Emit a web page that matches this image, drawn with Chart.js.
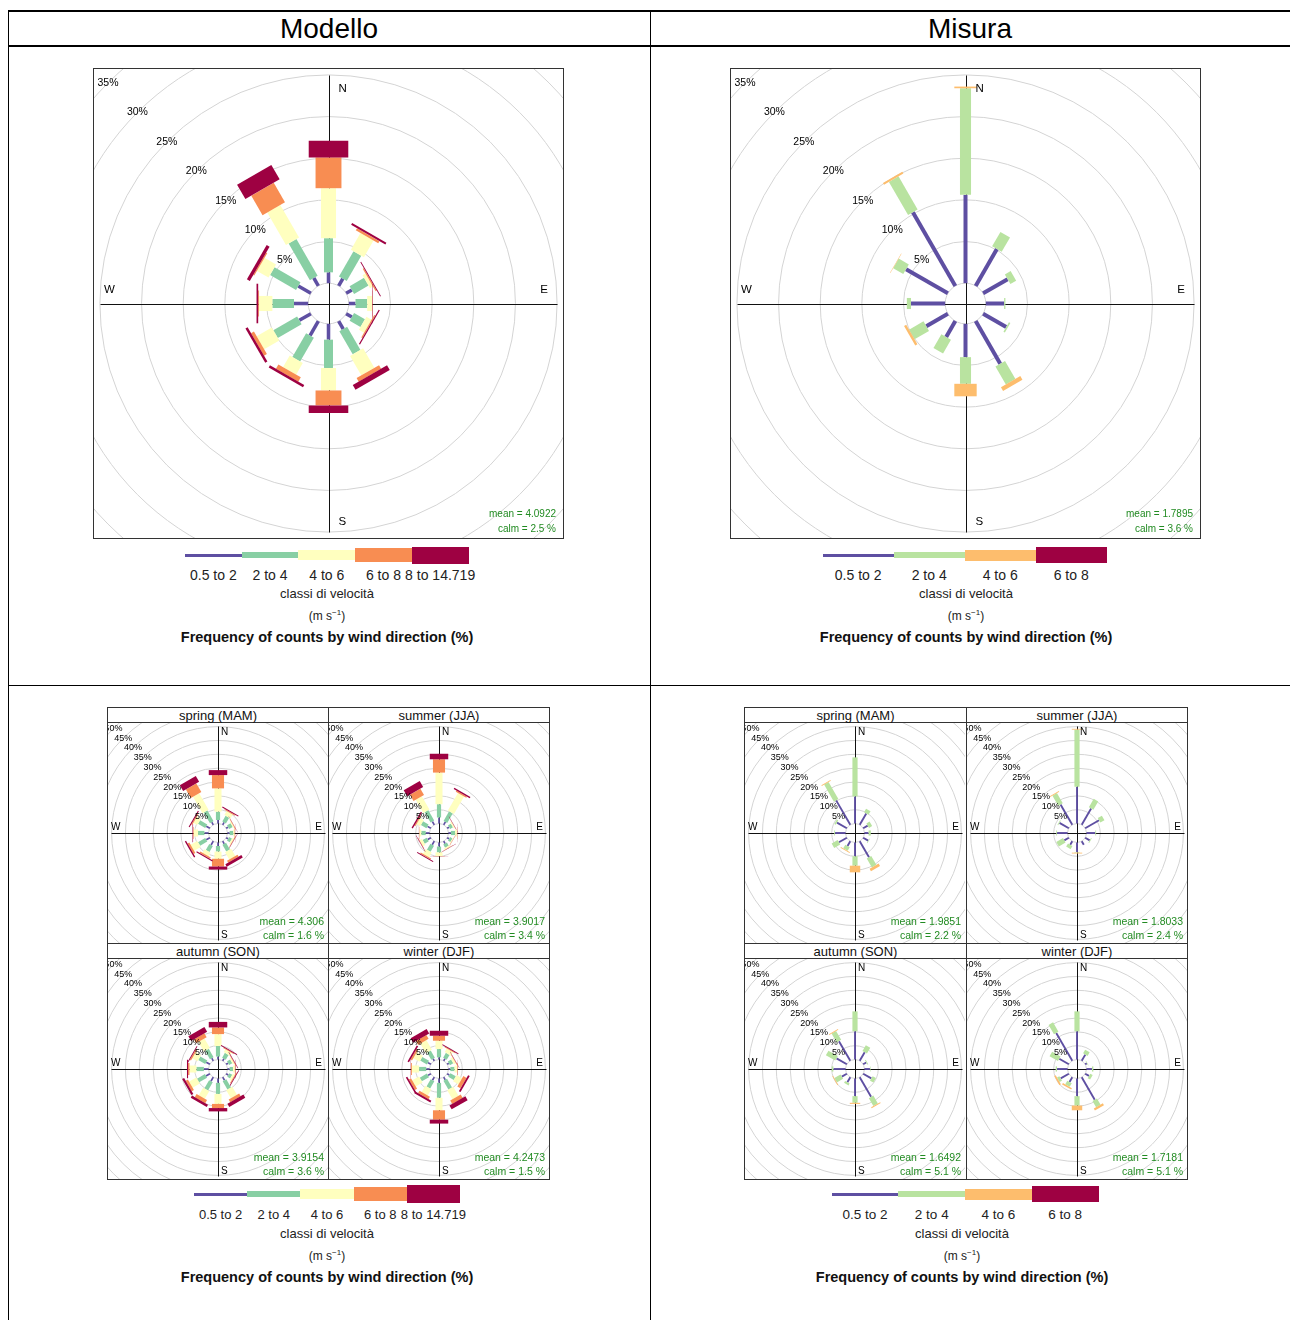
<!DOCTYPE html>
<html>
<head>
<meta charset="utf-8">
<title>Rose dei venti - Modello / Misura</title>
<script src="https://cdn.jsdelivr.net/npm/chart.js@4.4.1/dist/chart.umd.min.js"></script>
<style>
  body { margin: 0; background: #fff; font-family: "Liberation Sans", Arial, sans-serif; color: #000; }
  #page { position: relative; width: 1290px; height: 1320px; overflow: hidden; }
  .ln { position: absolute; }
  .txt { position: absolute; transform: translate(-50%, -50%); white-space: nowrap; }
  .seg { position: absolute; }
  canvas { position: absolute; }
</style>
</head>
<body>
<div id="page"></div>
<script>
// wind directions (degrees from north), 30 degree sectors
const directions = [0, 30, 60, 90, 120, 150, 180, 210, 240, 270, 300, 330];

const modelloClasses = ['0.5 to 2', '2 to 4', '4 to 6', '6 to 8', '8 to 14.719'];
const misuraClasses = ['0.5 to 2', '2 to 4', '4 to 6', '6 to 8'];
const modelloColours = ['#5E4FA2', '#88CFA4', '#FFFFBF', '#F88D52', '#9E0142'];
const misuraColours = ['#5E4FA2', '#B9E3A0', '#FDBD6D', '#9E0142'];
const seasons = ['spring (MAM)', 'summer (JJA)', 'autumn (SON)', 'winter (DJF)'];

// frequency (%) per direction, one row per speed class
const modelloAnnual = [
  [1.3, 1.0, 0.8, 0.8, 0.8, 1.1, 1.9, 2.0, 1.6, 1.7, 1.75, 1.1],
  [4.1, 3.5, 2.0, 1.4, 1.5, 3.2, 3.4, 3.3, 3.3, 2.6, 3.6, 5.1],
  [6.0, 2.3, 0.4, 0.6, 0.7, 2.7, 2.7, 1.6, 2.1, 1.6, 1.6, 4.5],
  [3.7, 0.3, 0.15, 0.05, 0.15, 0.5, 1.8, 0.6, 0.4, 0.1, 0.15, 2.7],
  [2.0, 0.25, 0.1, 0.05, 0.15, 0.65, 0.9, 0.3, 0.3, 0.2, 0.4, 2.0]
];
const misuraAnnual = [
  [10.6, 5.1, 3.4, 2.2, 3.2, 5.9, 4.0, 2.2, 3.0, 4.1, 5.8, 10.2],
  [12.8, 2.0, 0.8, 0.15, 0.2, 2.5, 3.2, 1.9, 2.0, 0.5, 1.4, 4.6],
  [0.2, 0, 0, 0, 0, 0.5, 1.5, 0, 0.3, 0, 0.05, 0.25],
  [0, 0, 0, 0, 0, 0, 0, 0, 0, 0, 0, 0]
];

const modelloSpring = [
  [1.3, 1.0, 0.8, 0.8, 0.8, 1.1, 1.3, 1.6, 1.5, 1.5, 1.5, 1.1],
  [3.0, 2.4, 1.5, 1.3, 1.2, 2.8, 2.0, 2.5, 3.0, 2.3, 3.0, 4.5],
  [8.4, 1.6, 0.4, 0.5, 0.6, 3.0, 2.6, 1.5, 2.8, 1.6, 1.6, 6.8],
  [4.8, 0.35, 0.2, 0.15, 0.2, 0.8, 2.8, 0.5, 0.7, 0.2, 0.4, 3.6],
  [1.8, 0.35, 0.1, 0.05, 0.1, 1.0, 1.1, 0.4, 0.5, 0.2, 0.4, 2.4]
];
const modelloSummer = [
  [2.2, 1.2, 0.8, 0.9, 0.8, 1.0, 1.5, 1.5, 1.3, 1.4, 1.4, 1.4],
  [4.8, 4.0, 1.2, 1.5, 1.0, 1.3, 2.1, 2.5, 1.7, 1.6, 2.3, 4.3],
  [11.4, 7.3, 0.5, 0.7, 0.3, 0.6, 1.3, 2.0, 1.0, 0.7, 1.5, 5.5],
  [4.8, 0.5, 0.1, 0.1, 0.1, 0.1, 0.1, 0.4, 0.15, 0.1, 0.4, 2.6],
  [2.0, 0.5, 0.1, 0.05, 0.05, 0.1, 0.05, 0.4, 0.15, 0.05, 0.5, 2.5]
];
const modelloAutumn = [
  [1.1, 0.9, 0.8, 0.8, 0.9, 1.3, 1.6, 1.7, 1.6, 1.7, 1.5, 1.1],
  [3.8, 2.0, 1.3, 1.2, 1.2, 3.4, 4.0, 3.4, 3.3, 2.7, 2.9, 3.5],
  [4.3, 1.2, 0.6, 0.7, 0.8, 3.4, 3.6, 3.2, 3.0, 2.5, 2.2, 4.0],
  [2.4, 0.3, 0.2, 0.2, 0.3, 1.1, 1.5, 1.3, 0.9, 0.5, 0.5, 1.6],
  [2.0, 0.3, 0.2, 0.1, 0.3, 1.3, 1.2, 0.9, 0.8, 0.4, 0.3, 2.0]
];
const modelloWinter = [
  [0.8, 0.9, 0.7, 0.7, 0.9, 1.1, 1.6, 1.3, 1.2, 1.2, 1.2, 0.9],
  [3.0, 2.0, 1.4, 1.5, 2.3, 3.6, 5.4, 3.0, 3.0, 2.6, 2.8, 3.0],
  [3.0, 1.5, 0.8, 1.0, 2.3, 3.8, 4.5, 2.6, 2.8, 2.6, 2.6, 4.0],
  [1.8, 0.3, 0.2, 0.2, 1.3, 1.4, 3.4, 1.0, 0.9, 0.3, 0.6, 1.6],
  [1.8, 0.3, 0.1, 0.05, 0.7, 1.6, 1.4, 0.7, 0.6, 0.1, 0.6, 1.8]
];

const misuraSpring = [
  [9.8, 4.75, 1.9, 1.5, 2.1, 6.7, 5.0, 2.0, 3.3, 3.8, 4.1, 10.2],
  [14.1, 1.45, 1.3, 0.8, 0.2, 3.7, 3.4, 1.5, 2.5, 0.3, 0.6, 7.1],
  [0, 0, 0, 0, 0, 1.0, 2.4, 0.3, 0, 0, 0, 0.3],
  [0, 0, 0, 0, 0, 0, 0, 0, 0, 0, 0, 0]
];
const misuraSummer = [
  [13.3, 6.8, 5.8, 3.2, 1.9, 1.5, 3.5, 1.5, 1.9, 3.8, 3.9, 8.5],
  [20.6, 3.5, 1.7, 0.3, 0.3, 0, 0.2, 1.3, 2.8, 0.3, 0.3, 4.2],
  [0.3, 0, 0, 0, 0, 0, 0.3, 0, 0, 0, 0, 0.3],
  [0, 0, 0, 0, 0, 0, 0, 0, 0, 0, 0, 0]
];
const misuraAutumn = [
  [10.2, 3.6, 1.3, 2.0, 3.4, 8.2, 6.4, 2.1, 2.1, 4.4, 4.3, 8.2],
  [7.2, 2.4, 0.3, 0.2, 1.4, 3.3, 2.4, 0.8, 2.6, 0.6, 3.9, 3.7],
  [0, 0, 0, 0, 0, 0.4, 0.4, 0, 0.3, 0, 0, 0.3],
  [0, 0, 0, 0, 0, 0, 0, 0, 0, 0, 0, 0]
];
const misuraWinter = [
  [10.2, 2.6, 0.7, 2.0, 1.6, 9.4, 6.4, 2.0, 3.4, 3.8, 4.0, 11.6],
  [7.2, 1.5, 0.2, 0.5, 1.0, 2.6, 3.4, 1.5, 1.0, 0.5, 3.5, 3.9],
  [0, 0, 0, 0, 0, 0.8, 1.7, 0.6, 0.6, 0, 0, 0],
  [0, 0, 0, 0, 0, 0, 0, 0, 0, 0, 0, 0]
];

// annual, spring, summer, autumn, winter
const modelloMean = ['4.0922', '4.306', '3.9017', '3.9154', '4.2473'];
const modelloCalm = ['2.5', '1.6', '3.4', '3.6', '1.5'];
const misuraMean = ['1.7895', '1.9851', '1.8033', '1.6492', '1.7181'];
const misuraCalm = ['3.6', '2.2', '2.4', '5.1', '5.1'];

const FONT = '"Liberation Sans", Arial, sans-serif';
const page = document.getElementById('page');

function addLine(x, y, w, h, col) {
  const d = document.createElement('div');
  d.className = 'ln';
  d.style.cssText = `left:${x}px;top:${y}px;width:${w}px;height:${h}px;background:${col || '#000'}`;
  page.appendChild(d);
}
function addText(x, y, html, css) {
  const d = document.createElement('div');
  d.className = 'txt';
  d.style.cssText = `left:${x}px;top:${y}px;` + (css || '');
  d.innerHTML = html;
  page.appendChild(d);
}
function addCanvas(x, y, size) {
  const c = document.createElement('canvas');
  c.width = size; c.height = size;
  c.style.left = x + 'px'; c.style.top = y + 'px';
  c.style.width = size + 'px'; c.style.height = size + 'px';
  page.appendChild(c);
  return c;
}

// looks of the two kinds of plot
const bigLook = { R: 28.27, offset: 2.44, maxRing: 35, pctFont: 10.5, nsewFont: 11.5, nsGap: 10, ewGap: 14,
  meanFont: 10, meanRight: 8, meanY: [24.5, 9.5], frame: true };
const smallLook = { R: 39.7, offset: 3.4, maxRing: 50, pctFont: 9, nsewFont: 10, nsGap: 3, ewGap: 5.5,
  meanFont: 10.5, meanRight: 4, meanY: [20.5, 7.3], frame: false };
const modelloWidths = [0.015, 0.038, 0.064, 0.11, 0.168];
const misuraWidths = [0.017, 0.047, 0.095, 0.15];

function drawRose(chart, rows, colours, widths, look, mean, calm) {
  const ctx = chart.ctx, a = chart.chartArea;
  const sx = chart.scales.x, sy = chart.scales.y;
  const P = (u, v) => [sx.getPixelForValue(u), sy.getPixelForValue(v)];
  const unit = sx.getPixelForValue(1) - sx.getPixelForValue(0);
  const cx = sx.getPixelForValue(0), cy = sy.getPixelForValue(0);
  const R = look.R, off = look.offset;

  ctx.save();
  ctx.beginPath();
  ctx.rect(a.left, a.top, a.right - a.left, a.bottom - a.top);
  ctx.clip();

  // grid circles (first one = calm circle)
  ctx.strokeStyle = '#d4d4d4';
  ctx.lineWidth = 1;
  for (let p = 0; p <= look.maxRing; p += 5) {
    ctx.beginPath();
    ctx.arc(cx, cy, (off + p) * unit, 0, Math.PI * 2);
    ctx.stroke();
  }

  // cross
  ctx.strokeStyle = '#111';
  const L = R * 0.97;
  [[P(-L, 0), P(L, 0)], [P(0, -L), P(0, L)]].forEach(([p1, p2]) => {
    ctx.beginPath();
    ctx.moveTo(Math.round(p1[0]) + 0.5, Math.round(p1[1]) + 0.5);
    ctx.lineTo(Math.round(p2[0]) + 0.5, Math.round(p2[1]) + 0.5);
    ctx.stroke();
  });

  // paddles, stacked outward by speed class
  directions.forEach((dir, j) => {
    const t = dir * Math.PI / 180, s = Math.sin(t), c = Math.cos(t);
    let r0 = off;
    rows.forEach((row, i) => {
      const f = row[j];
      if (!f) return;
      const r1 = r0 + f, hw = widths[i] * R / 2;
      const pts = [[r0, -hw], [r1, -hw], [r1, hw], [r0, hw]]
        .map(([r, w]) => P(r * s + w * c, r * c - w * s));
      ctx.fillStyle = colours[i];
      ctx.beginPath();
      pts.forEach((q, k) => k ? ctx.lineTo(q[0], q[1]) : ctx.moveTo(q[0], q[1]));
      ctx.closePath();
      ctx.fill();
      r0 = r1;
    });
  });

  // percentage labels at 315 degrees
  ctx.fillStyle = '#000';
  ctx.font = `${look.pctFont}px ${FONT}`;
  ctx.textAlign = 'center';
  ctx.textBaseline = 'middle';
  for (let p = 5; p <= look.maxRing; p += 5) {
    const r = (off + p) * Math.SQRT1_2;
    const q = P(-r, r);
    ctx.fillText(p + '%', q[0], q[1]);
  }

  // compass letters
  ctx.font = `${look.nsewFont}px ${FONT}`;
  ctx.textAlign = 'left';
  ctx.fillText('N', cx + look.nsGap, cy - 0.913 * R * unit);
  ctx.fillText('S', cx + look.nsGap, cy + 0.925 * R * unit);
  ctx.textAlign = 'center';
  ctx.fillText('E', cx + 0.915 * R * unit, cy - look.ewGap);
  ctx.fillText('W', cx - 0.93 * R * unit, cy - look.ewGap);

  // statistics
  ctx.fillStyle = '#228B22';
  ctx.font = `${look.meanFont}px ${FONT}`;
  ctx.textAlign = 'right';
  ctx.fillText('mean = ' + mean, a.right - look.meanRight, a.bottom - look.meanY[0]);
  ctx.fillText('calm = ' + calm + ' %', a.right - look.meanRight, a.bottom - look.meanY[1]);
  ctx.restore();

  if (look.frame) {
    ctx.save();
    ctx.strokeStyle = '#333';
    ctx.lineWidth = 1;
    ctx.strokeRect(a.left + 0.5, a.top + 0.5, a.right - a.left - 1, a.bottom - a.top - 1);
    ctx.restore();
  }
}

function makeRose(canvas, rows, classes, colours, widths, look, mean, calm) {
  return new Chart(canvas, {
    type: 'scatter',
    data: {
      datasets: classes.map((c, i) => ({ label: c, data: [], backgroundColor: colours[i] }))
    },
    options: {
      responsive: false,
      animation: false,
      events: [],
      layout: { padding: 0 },
      plugins: { legend: { display: false }, tooltip: { enabled: false } },
      scales: {
        x: { type: 'linear', min: -look.R, max: look.R, display: false },
        y: { type: 'linear', min: -look.R, max: look.R, display: false }
      }
    },
    plugins: [{
      id: 'windRose',
      afterDraw: chart => drawRose(chart, rows, colours, widths, look, mean, calm)
    }]
  });
}

function addLegend(x0, segW, cy, labY, cx, y2, classes, colours, heights, labFont) {
  classes.forEach((c, i) => {
    const d = document.createElement('div');
    d.className = 'seg';
    d.style.cssText = `left:${x0 + i * segW}px;top:${cy - heights[i] / 2}px;width:${segW + 0.5}px;height:${heights[i]}px;background:${colours[i]}`;
    page.appendChild(d);
    addText(x0 + (i + 0.5) * segW, labY, c, `font-size:${labFont}px;color:#222`);
  });
  addText(cx, y2, 'classi di velocità', 'font-size:13px;color:#222');
  addText(cx, y2 + 22, '(m s<sup style="font-size:8px">−1</sup>)', 'font-size:12px;color:#222');
  addText(cx, y2 + 44, 'Frequency of counts by wind direction (%)', 'font-size:14.5px;font-weight:bold;color:#111');
}

// table lines and headers
addLine(8, 10, 1282, 2);
addLine(8, 45, 1282, 2);
addLine(8, 685, 1282, 1);
addLine(8, 10, 1, 1310);
addLine(650, 10, 1, 1310);
addText(329, 29, 'Modello', 'font-size:28px');
addText(970, 29, 'Misura', 'font-size:28px');

// annual roses
makeRose(addCanvas(93, 68, 471), modelloAnnual, modelloClasses, modelloColours, modelloWidths, bigLook, modelloMean[0], modelloCalm[0]);
makeRose(addCanvas(730, 68, 471), misuraAnnual, misuraClasses, misuraColours, misuraWidths, bigLook, misuraMean[0], misuraCalm[0]);
addLegend(185, 56.7, 555, 575, 327, 593, modelloClasses, modelloColours, [3, 6, 10, 13.5, 17], 14);
addLegend(822.7, 71, 555, 575, 966, 593, misuraClasses, misuraColours, [3, 6, 11, 16.5], 14);

// seasonal panels
function seasonalBlock(x0, x1, x2, sets, classes, colours, widths, means, calms) {
  const ys = [707, 722, 943, 958, 1179];
  ys.forEach(y => addLine(x0, y, x2 - x0 + 1, 1, '#333'));
  [x0, x1, x2].forEach(x => addLine(x, 707, 1, 473, '#333'));
  const cells = [[x0, 722], [x1, 722], [x0, 958], [x1, 958]];
  cells.forEach(([x, y], k) => {
    const right = k % 2 ? x2 : x1;
    addText((x + right) / 2 + 0.5, y - 7, seasons[k], 'font-size:13px;color:#111');
    makeRose(addCanvas(x + 1, y + 1, 220), sets[k], classes, colours, widths, smallLook, means[k + 1], calms[k + 1]);
  });
}
seasonalBlock(107, 328, 549, [modelloSpring, modelloSummer, modelloAutumn, modelloWinter],
  modelloClasses, modelloColours, modelloWidths, modelloMean, modelloCalm);
seasonalBlock(744, 966, 1187, [misuraSpring, misuraSummer, misuraAutumn, misuraWinter],
  misuraClasses, misuraColours, misuraWidths, misuraMean, misuraCalm);
addLegend(194, 53.2, 1194, 1214, 327, 1233, modelloClasses, modelloColours, [3, 6, 10, 13.5, 17.5], 13);
addLegend(831.7, 66.7, 1194, 1214, 962, 1233, misuraClasses, misuraColours, [3, 6, 11, 16.5], 13.5);
</script>
</body>
</html>
